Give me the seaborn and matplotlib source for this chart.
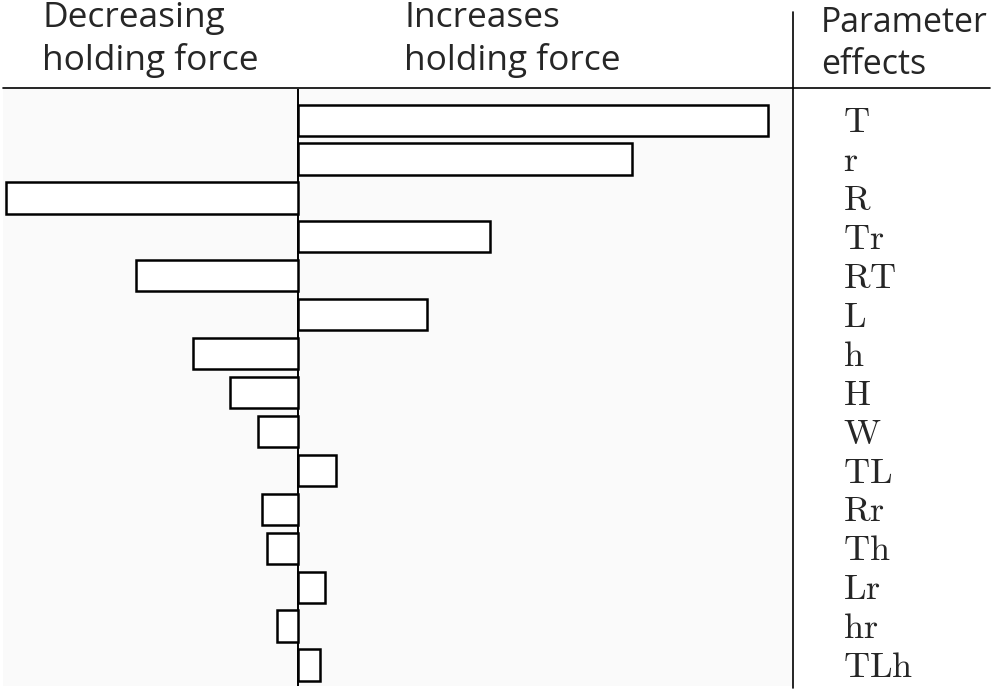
import matplotlib
matplotlib.use('Agg')
import matplotlib.pyplot as plt
from matplotlib.lines import Line2D
import seaborn as sns
import pandas as pd

# parameter effects on holding force (arbitrary units)
params = ['T', 'r', 'R', 'Tr', 'RT', 'L', 'h', 'H', 'W', 'TL', 'Rr', 'Th', 'Lr', 'hr', 'TLh']
effects = [4.70, 3.34, -2.92, 1.92, -1.62, 1.29, -1.05, -0.68, -0.40, 0.38,
           -0.36, -0.31, 0.27, -0.21, 0.22]

header_left = 'Decreasing\nholding force'
header_mid = 'Increases\nholding force'
header_right = 'Parameter\neffects'

sns.set_style('white')
plt.rcParams['font.family'] = ['Open Sans', 'DejaVu Sans']
plt.rcParams['mathtext.fontset'] = 'cm'

df = pd.DataFrame({'param': params, 'effect': effects})

W, H = 993, 692
fig = plt.figure(figsize=(W / 100, H / 100), dpi=100)
ax = fig.add_axes([3 / W, 6 / H, 790 / W, 597 / H])
ax.set_facecolor('#fafafa')

sns.barplot(data=df, x='effect', y='param', orient='h', ax=ax,
            color='white', edgecolor='black', linewidth=1.8, width=0.8)

ax.axvline(0, color='black', linewidth=1.4, zorder=0.5)
ax.set_xlim(-2.95, 4.95)
ax.set_ylim(14.54, -0.8)
for s in ax.spines.values():
    s.set_visible(False)
ax.set_xticks([])
ax.set_yticks([])
ax.set_xlabel('')
ax.set_ylabel('')

# labels on the right, serif
trans = ax.get_yaxis_transform()
for i, p in enumerate(params):
    ax.text(1.063, i + 0.08, r'$\mathrm{%s}$' % p, transform=trans, ha='left',
            va='center', fontsize=26, clip_on=False)

# header and separators
fig.add_artist(Line2D([3 / W, 990 / W], [1 - 88 / H, 1 - 88 / H],
                      color='black', linewidth=1.2))
fig.add_artist(Line2D([793 / W, 793 / W], [1 - 688 / H, 1 - 12 / H],
                      color='black', linewidth=1.2))

fig.text(42 / W, 1 - 1 / H, header_left, ha='left', va='top', fontsize=25.4,
         linespacing=1.28)
fig.text(404 / W, 1 - 1 / H, header_mid, ha='left', va='top', fontsize=25.4,
         linespacing=1.28)
fig.text(821 / W, 1 - 6 / H, header_right, ha='left', va='top', fontsize=24.4,
         linespacing=1.3)

fig.savefig('out.png', dpi=100, facecolor='white')
